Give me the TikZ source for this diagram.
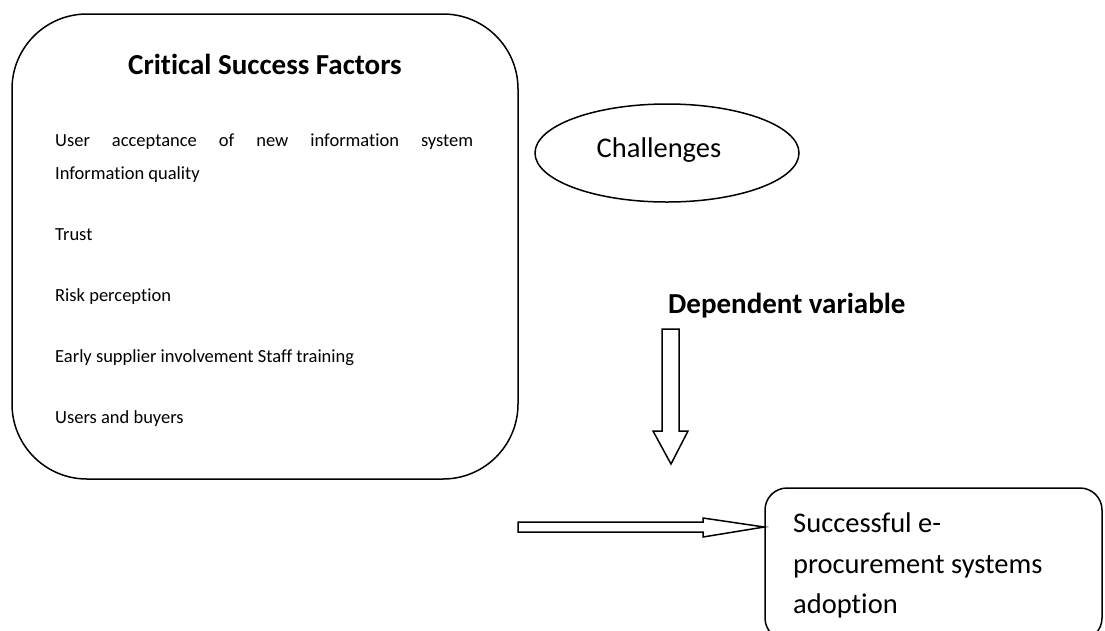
\documentclass[tikz,border=0pt]{standalone}
\usepackage{fontspec}
\setmainfont{Carlito}[Ligatures={NoCommon,NoContextual}]
\usetikzlibrary{shapes.geometric}
\tikzset{
  line/.style={line width=1.5pt, black},
  body/.style={anchor=base west, inner sep=0pt, font=\fontsize{18.5pt}{22pt}\selectfont},
  big/.style={inner sep=0pt, font=\fontsize{28.5pt}{34pt}\selectfont},
  bigbold/.style={inner sep=0pt, font=\fontsize{29pt}{34pt}\selectfont\bfseries},
  blockarrow/.style={line width=1.5pt, black, fill=white, line join=miter}
}
\begin{document}
\begin{tikzpicture}[x=1pt,y=-1pt]
\useasboundingbox (0,0) rectangle (1105,630);
% big rounded box
\node[line, draw, rounded corners=75pt, minimum width=506pt, minimum height=465pt, inner sep=0pt] (csf) at (265,246.5) {};
\node[bigbold, anchor=base] (title) at (265,74) {Critical Success Factors};
\node[body] (l1) at (55,146) {\makebox[418pt][s]{User acceptance of new information system}};
\node[body] (l2) at (55,179) {Information quality};
\node[body] (l3) at (55,240) {Trust};
\node[body] (l4) at (55,301) {Risk perception};
\node[body] (l5) at (55,362) {Early supplier involvement Staff training};
\node[body] (l6) at (55,423) {Users and buyers};
% challenges ellipse
\node[line, draw, ellipse, minimum width=264pt, minimum height=98pt, inner sep=0pt] (chal) at (667,153) {};
\node[big, anchor=base] (chaltext) at (659,157) {Challenges};
% dependent variable
\node[bigbold, anchor=base west] (dep) at (668,313) {Dependent variable};
% down block arrow
\draw[blockarrow] (662,329) -- (679,329) -- (679,431) -- (688,431) -- (671,464) -- (653,431) -- (662,431) -- cycle;
% result box
\node[line, draw, rounded corners=22pt, minimum width=337pt, minimum height=152pt, inner sep=0pt] (succ) at (933.5,564) {};
\node[big, anchor=base west] (s1) at (793,532) {Successful e-};
\node[big, anchor=base west] (s2) at (793,573) {procurement systems};
\node[big, anchor=base west] (s3) at (793,613) {adoption};
% horizontal block arrow
\coordinate (tip) at (succ.west |- 0,527);
\draw[blockarrow] (518,522) -- (703,522) -- (703,518) -- (tip) -- (703,537) -- (703,532) -- (518,532) -- cycle;
\end{tikzpicture}
\end{document}
